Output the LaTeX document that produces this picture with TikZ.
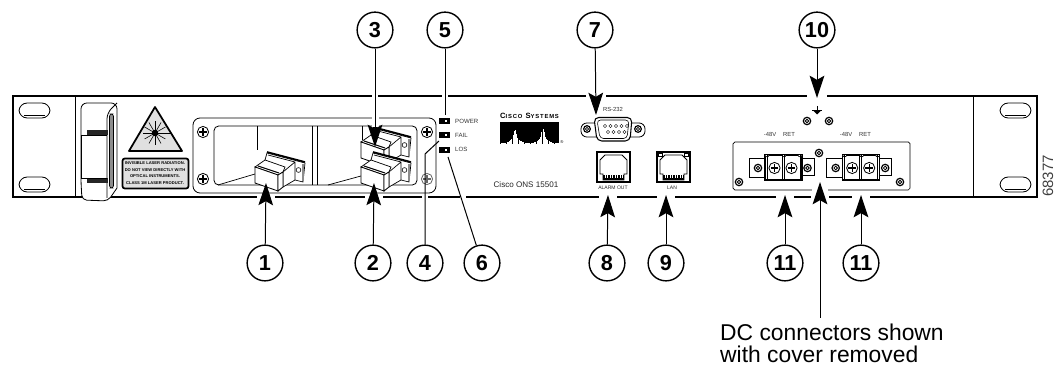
\documentclass[tikz,border=0pt]{standalone}
\usepackage{fontspec}
\setmainfont{Liberation Sans}
\newfontfamily\logofont[LetterSpace=14]{Liberation Sans}
\usetikzlibrary{arrows.meta}
\tikzset{
  callout/.style={circle, draw, line width=1.2pt, fill=white, minimum size=30.5pt, inner sep=0pt, font=\bfseries\fontsize{18.5}{18.5}\selectfont},
  callarrow/.style={line width=.85pt, -{Stealth[length=19pt,width=12.5pt,inset=3.5pt]}},
  callline/.style={line width=.85pt},
  tinylabel/.style={inner sep=0pt, font=\fontsize{5}{6}\selectfont, text=black!80},
  jacklabel/.style={inner sep=0pt, font=\fontsize{4.3}{5}\selectfont, text=black!85},
  ledlabel/.style={inner sep=0pt, anchor=west, font=\fontsize{5.2}{6}\selectfont, text=black!80},
  warntext/.style={inner sep=0pt, font=\bfseries\fontsize{3.5}{4}\selectfont},
  hexscrew/.pic={
    \draw[fill=white, line width=1pt] (0,0) circle (3.7);
    \draw[line width=.7pt] (0,0) circle (1.8);
  },
  phillips/.pic={
    \draw[fill=white, line width=.7pt] (0,0) circle (5.6);
    \draw[line width=1pt] (-3.8,0) -- (3.8,0) (0,-3.8) -- (0,3.8);
  },
  fibre/.pic={
    % rear latch and body
    \draw[fill=white, line width=.6pt] (10,-7) -- (12,-14) -- (50,-4) -- (48,15) -- (40,13) -- (28,20) -- (28,5) -- cycle;
    \draw[line width=1.4pt] (12,-15) -- (50,-5);
    \draw[line width=.6pt] (13,-12) -- (40,-5) -- (40,13) (28,5) -- (40,-5);
    \fill[black!45] (47,-3) rectangle (49,14);
    \draw[line width=.5pt] (43.5,3) circle (2.4);
    % front face
    \draw[fill=white, line width=.6pt] (0,0) -- (10,-7) -- (30,0) -- (28,5) -- (23,8) -- cycle;
    \draw[line width=.9pt] (3,-1) -- (24,6);
    \draw[fill=white, line width=.7pt] (0,0) -- (23,8) -- (23,24) -- (0,16) -- cycle;
    \draw[fill=white, line width=.7pt] (23,8) -- (28,5) -- (28,20) -- (23,24) -- cycle;
  },
  termblock/.pic={
    \draw[fill=white, line width=.7pt] (0,0) rectangle (16,19);
    \draw[fill=white, line width=.7pt] (53,0) rectangle (65,17);
    \draw[fill=white, line width=.9pt] (16,-3) -- (16,22) -- (53,22) -- (53,-3) -- cycle;
    \foreach \dx in {16,33,49} \draw[fill=white, line width=.6pt] (\dx,-2.8) arc (180:0:2 and 1.6);
    \draw[line width=.8pt] (18,-3) -- (18,22) (33,-3) -- (33,22) (35,-3) -- (35,22) (51,-3) -- (51,22);
    \pic at (9,10) {hexscrew};
    \pic at (25.5,10) {phillips};
    \pic at (42.5,10) {phillips};
    \pic at (58.5,10) {hexscrew};
  },
  rjjack/.pic={
    \draw[line width=.9pt] (0,0) rectangle (33,30);
    \draw[line width=.7pt] (3,8) -- (8,3) -- (25,3) -- (30,8) -- (30,22) -- (27,22) -- (27,28) -- (6,28) -- (6,22) -- (3,22) -- cycle;
    \fill (6,23) rectangle (27,28);
    \foreach \tick in {8,10.5,...,26} \draw[white, line width=.3pt] (\tick,23.5) -- (\tick,26);
  }
}
\begin{document}
\begin{tikzpicture}[x=0.3mm, y=-0.3mm]
        \useasboundingbox (0,0) rectangle (1055,373);
        % Chassis
        \draw[line width=1.7pt] (13,96) rectangle (1037,197);
        \draw[line width=.7pt] (75,96) -- (75,197);
        \draw[line width=.7pt] (973,96) -- (973,197);
        \foreach \x/\y in {19/103, 19/177, 1000/103, 1000/177} {
          \draw[line width=.7pt, rounded corners=7pt] (\x,\y) rectangle ++(31,15);
          \draw[line width=.4pt] (\x+5,\y+12.5) -- (\x+26,\y+12.5);
        }

        % Handle
        \draw[fill=white, line width=.7pt, rounded corners=5pt] (81,130) -- (81,103) -- (117,103) [sharp corners] -- (117,188) [rounded corners=4pt] -- (108,201) -- (82,200) -- (81,182) -- cycle;
        \draw[line width=.7pt, rounded corners=5pt] (117,103) -- (107,113) -- (107,198);
        \draw[fill=black!45, line width=.6pt, rounded corners=2pt] (109.5,114) rectangle (113.5,188);
        \fill[black!85] (87,130) rectangle (108,135);
        \fill[black!85] (87,178) rectangle (108,183);
        \draw[line width=.6pt] (81,135) -- (107,135) (81,178) -- (107,178) (81,135) -- (81,178);

        % Laser warning
        \draw[fill=black!12, line width=1.5pt, line join=round] (155,107) -- (182,151) -- (129,151) -- cycle;
        \foreach \ang in {0,30,...,330} \draw[line width=.5pt] (155,133) -- ++(\ang:12);
        \fill (155,133) circle (3.2);
        \draw[line width=.6pt] (155,133) -- (172,133);
        \draw[fill=black!12, line width=1.5pt, rounded corners=2pt] (122.5,158.5) rectangle (188.5,188.5);
        \node[warntext] (warn1) at (155,163) {INVISIBLE LASER RADIATION.};
        \node[warntext] (warn2) at (155,170) {DO NOT VIEW DIRECTLY WITH};
        \node[warntext] (warn3) at (155,176.5) {OPTICAL INSTRUMENTS.};
        \node[warntext] (warn4) at (155,183.5) {CLASS 1M LASER PRODUCT.};

        % Bay with the modules
        \draw[line width=.7pt, rounded corners=6pt] (193,118) rectangle (436,193);
        \draw[line width=.7pt, rounded corners=4pt] (214,126) rectangle (417,185);
        \draw[line width=.6pt] (257,126) -- (257,150) (312,126) -- (312,185) (317,126) -- (317,185) (362,126) -- (362,140);
        \draw[line width=.6pt] (218,185) -- (255,174) (328,185) -- (361,176);
        \pic at (203,132) {phillips};
        \pic at (203,179) {phillips};
        \pic at (427,132) {phillips};
        \pic[opacity=.6] at (427,179) {phillips};
        \pic at (255,167) {fibre};
        \pic at (361,142) {fibre};
        \pic at (361,167) {fibre};

        % LEDs
        \foreach \y in {118,132,147} {
          \fill (439,\y) rectangle ++(11,6.5);
          \fill[white] (445,\y+2.5) rectangle ++(2,1.5);
        }
        \node[ledlabel] (power) at (455,121) {POWER};
        \node[ledlabel] (fail) at (455,135.5) {FAIL};
        \node[ledlabel] (los) at (455,149.5) {LOS};

        % Logo
        \node[inner sep=0pt] (logo) at (529.5,116) {\logofont\bfseries\fontsize{6.5}{7}\selectfont C{\fontsize{5}{7}\selectfont ISCO} S{\fontsize{5}{7}\selectfont YSTEMS}};
        \fill (500,122) rectangle (559,144);
        \foreach \x in {501,502.2,...,559} {
          \pgfmathsetmacro{\hgt}{9*exp(0-(\x-515)*(\x-515)/4)+5*exp(0-(\x-515)*(\x-515)/40)+9*exp(0-(\x-543)*(\x-543)/4)+5*exp(0-(\x-543)*(\x-543)/40)+.8}
          \draw[white, line width=.55pt] (\x,144) -- ++(0,-\hgt);
        }
        \node[inner sep=0pt, font=\fontsize{3.5}{4}\selectfont] (reg) at (562,142.5) {\textregistered};
        \node[inner sep=0pt, font=\fontsize{6.9}{8}\selectfont, text=black!85] (model) at (526,185) {Cisco ONS 15501};

        % RS-232
        \node[tinylabel] (rs) at (613,109) {RS-232};
        \draw[fill=white, line width=.7pt, rounded corners=5pt] (581,123) rectangle (645,137);
        \draw[fill=white, line width=.9pt, rounded corners=4pt] (594,117.5) -- (632,117.5) -- (630,141) -- (597,141) -- cycle;
        \draw[line width=.5pt, rounded corners=3pt] (597,120) -- (629,120) -- (627,138.5) -- (600,138.5) -- cycle;
        \pic[scale=.9] at (587,129) {hexscrew};
        \pic[scale=.9] at (638,129) {hexscrew};
        \foreach \x in {605,610.5,616,621.5,627} \draw[line width=.4pt] (\x,126) circle (1.6);
        \foreach \x in {608,613.5,619,624.5} \draw[line width=.4pt] (\x,132) circle (1.6);

        % RJ jacks
        \pic at (597,152) {rjjack};
        \pic at (657,152) {rjjack};
        \draw[line width=.4pt] (658.5,153.5) rectangle ++(4,3) (684,153.5) rectangle ++(4,3);
        \node[jacklabel] (alarm) at (613,188) {ALARM OUT};
        \node[jacklabel] (lan) at (672,188) {LAN};

        % Ground
        \draw[line width=.7pt] (817,106) -- (817,113) (812,110.5) -- (822,110.5);
        \fill (813.5,111) -- (820.5,111) -- (817,114.5) -- cycle;
        \pic at (807,121) {hexscrew};
        \pic at (829,121) {hexscrew};

        % DC connectors
        \draw[line width=.6pt, rounded corners=1.5pt] (733,142) rectangle (910,190);
        \pic at (739,182) {hexscrew};
        \pic at (819,153) {hexscrew};
        \pic at (900,182) {hexscrew};
        \pic at (749,158) {termblock};
        \pic at (826.7,158) {termblock};
        \foreach \x/\txt [count=\i] in {770/-48V, 789/RET, 846/-48V, 865/RET}
          \node[tinylabel] (dc\i) at (\x,134) {\txt};

        % White gaps in the chassis line
        \foreach \x/\w in {266/9, 374/9, 425/3, 463/3, 608/9, 666/9, 785/9, 820/9, 861/9}
          \fill[white] (\x-\w,194.5) rectangle (\x+\w,199.5);
        \foreach \x/\w in {375/3, 445/3, 596/10, 817/10}
          \fill[white] (\x-\w,93.5) rectangle (\x+\w,98.5);
        \fill[white] (371.5,116.5) rectangle (378.5,127.5);
        \fill[white] (812,188.5) rectangle (828,191.5);

        % Callouts
        \node[callout] (c1) at (265,263) {1};
        \node[callout] (c2) at (373,263) {2};
        \node[callout] (c3) at (375,30) {3};
        \node[callout] (c4) at (425,263) {4};
        \node[callout] (c5) at (445,30) {5};
        \node[callout] (c6) at (482,263) {6};
        \node[callout] (c7) at (595,30) {7};
        \node[callout] (c8) at (607,263) {8};
        \node[callout] (c9) at (666,263) {9};
        \node[callout] (c10) at (817,30) {10};
        \node[callout] (c11) at (785,263) {11};
        \node[callout] (c12) at (861,263) {11};

        \coordinate (t1) at (266,183);
        \coordinate (t2) at (374,183);
        \coordinate (t3) at (375,147);
        \coordinate (t4) at (425,154);
        \coordinate (t4b) at (439,141);
        \coordinate (t5) at (445,115);
        \coordinate (t6) at (448,157);
        \coordinate (t7) at (596,115);
        \coordinate (t8) at (608,195);
        \coordinate (t9) at (666,195);
        \coordinate (t10) at (817,98);
        \coordinate (t11) at (785,195);
        \coordinate (t12) at (861,195);
        \coordinate (t13) at (820,182);
        \coordinate (t14) at (820,318);

        \foreach \from/\to in {c1/t1, c2/t2, c3/t3, c7/t7, c8/t8, c9/t9, c10/t10, c11/t11, c12/t12, t14/t13}
          \draw[callarrow] (\from) -- (\to);
        \draw[callline] (c4) -- (t4) -- (t4b);
        \draw[callline] (c5) -- (t5);
        \draw[callline] (c6) -- (t6);

        \node[anchor=north west, inner sep=0pt, align=left, font=\fontsize{19.5}{18.7}\selectfont] (dcnote) at (720,323.5) {DC connectors shown\\with cover removed};
        \node[rotate=90, inner sep=0pt, font=\fontsize{12.8}{13}\selectfont, text=black!75] (figno) at (1048,176) {68377};
    \end{tikzpicture}
\end{document}
